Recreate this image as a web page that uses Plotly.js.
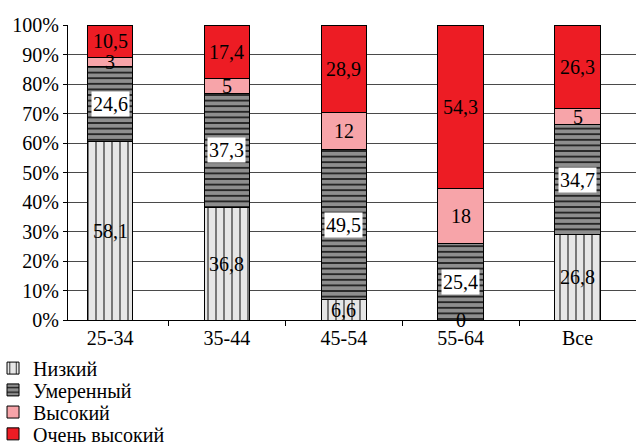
<!DOCTYPE html>
<html>
<head>
<meta charset="utf-8">
<script src="https://cdn.plot.ly/plotly-3.0.1.min.js"></script>
<style>html,body{margin:0;padding:0;background:#fff;}#chart{width:636px;height:443px;}</style>
</head>
<body>
<div id="chart"></div>
<script>
const categories = ['25-34', '35-44', '45-54', '55-64', 'Все'];
const seriesNames = ['Низкий', 'Умеренный', 'Высокий', 'Очень высокий'];
const low = [58.1, 36.8, 6.6, 0, 26.8];
const moderate = [24.6, 37.3, 49.5, 25.4, 34.7];
const high = [3, 5, 12, 18, 5];
const veryHigh = [10.5, 17.4, 28.9, 54.3, 26.3];
const yTickVals = [0, 10, 20, 30, 40, 50, 60, 70, 80, 90, 100];

const FONT = 'Times New Roman';
const allSeries = [low, moderate, high, veryHigh];
const styles = [
  {color: '#e6e6e6', pattern: {shape: '|', fgcolor: '#111', bgcolor: '#e6e6e6', size: 8, solidity: 0.13}},
  {color: '#8c8c8c', pattern: {shape: '-', fgcolor: '#1a1a1a', bgcolor: '#8e8e8e', size: 5.6, solidity: 0.3}},
  {color: '#f7a4a9'},
  {color: '#ed1c24'}
];
const legendIds = ['legend', 'legend2', 'legend3', 'legend4'];

const traces = allSeries.map((vals, i) => ({
  type: 'bar',
  name: seriesNames[i],
  legend: legendIds[i],
  x: categories,
  y: vals,
  width: 0.39,
  marker: Object.assign({line: {color: '#000', width: 1}}, styles[i]),
  hoverinfo: 'skip'
}));

// label annotations at the middle of each normalized segment
const totals = categories.map((c, j) => allSeries.reduce((s, a) => s + a[j], 0));
const annotations = [];
categories.forEach((c, j) => {
  let cum = 0;
  allSeries.forEach((vals, i) => {
    const pct = vals[j] / totals[j] * 100;
    const mid = cum + pct / 2;
    cum += pct;
    annotations.push({
      x: c, y: mid, xref: 'x', yref: 'y',
      text: String(vals[j]).replace('.', ','),
      showarrow: false,
      font: {family: FONT, size: 20, color: '#000'},
      bgcolor: i === 1 ? '#ffffff' : 'rgba(0,0,0,0)',
      borderpad: 1
    });
  });
});

const layout = {
  width: 636, height: 443,
  margin: {l: 68, r: 0, t: 25, b: 123, autoexpand: false},
  paper_bgcolor: '#fff', plot_bgcolor: '#fff',
  barmode: 'stack',
  barnorm: 'percent',
  font: {family: FONT, size: 20, color: '#000'},
  xaxis: {
    type: 'category',
    range: [-0.36, 4.5],
    showline: true, linecolor: '#000', linewidth: 1,
    ticks: 'outside', ticklen: 5, tickcolor: '#000', tickson: 'boundaries',
    showgrid: false,
    tickfont: {family: FONT, size: 20, color: '#000'}
  },
  yaxis: {
    range: [0, 100],
    tickvals: yTickVals,
    ticktext: yTickVals.map(v => v + '%'),
    showline: true, linecolor: '#000', linewidth: 1,
    ticks: 'outside', ticklen: 4, tickcolor: '#000',
    showgrid: true, gridcolor: '#4a4a4a', gridwidth: 1,
    zeroline: false,
    tickfont: {family: FONT, size: 20, color: '#000'}
  },
  showlegend: true,
  annotations: annotations
};

// one legend per series so the rows can sit as tightly as in the reference
const legendRowY = [-0.163, -0.237, -0.312, -0.386];
legendIds.forEach((id, i) => {
  layout[id] = {
    orientation: 'v',
    xref: 'paper', yref: 'paper',
    x: -0.132, y: legendRowY[i], xanchor: 'left', yanchor: 'middle',
    font: {family: FONT, size: 20, color: '#000'},
    bgcolor: 'rgba(0,0,0,0)', itemwidth: 30
  };
});

Plotly.newPlot('chart', traces, layout, {displayModeBar: false, staticPlot: true});
</script>
</body>
</html>
